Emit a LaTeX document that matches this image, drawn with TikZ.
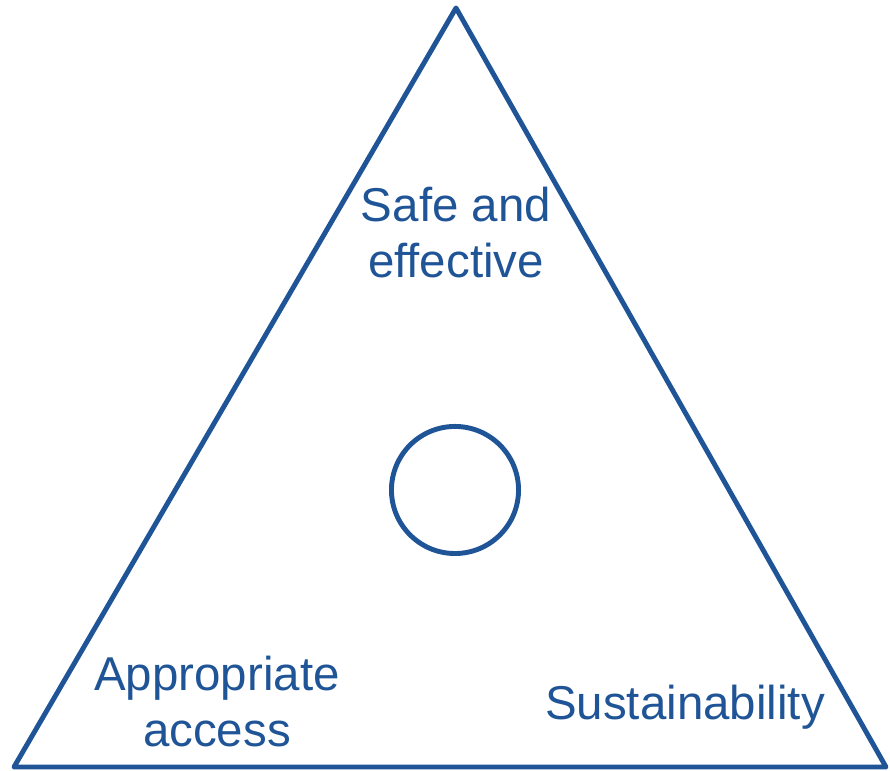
\documentclass[tikz,border=0pt]{standalone}
\usepackage{fontspec}
\setmainfont{Liberation Sans}
\definecolor{triblue}{RGB}{31,84,151}
\begin{document}
\begin{tikzpicture}[x=0.01cm, y=-0.01cm, line width=1.4pt,
        corner/.style = {text=triblue, align=center, inner sep=0pt,
            font=\fontsize{13.5}{16}\selectfont}]
    \useasboundingbox (0,0) rectangle (890,771);
    \coordinate (top) at (456,8);
    \coordinate (left) at (14,767);
    \coordinate (right) at (886,767);
    \draw[triblue, line join=round] (top) -- (left) -- (right) -- cycle;
    \node[draw=triblue, circle, minimum size=1.27cm, inner sep=0pt] (hub) at (455,490) {};
    \node[corner, anchor=base] (safe) at (456,278) {Safe and\\effective};
    \node[corner, anchor=base] (access) at (217,747) {Appropriate\\access};
    \node[corner, anchor=base] (sust) at (685,720) {Sustainability};
\end{tikzpicture}
\end{document}
